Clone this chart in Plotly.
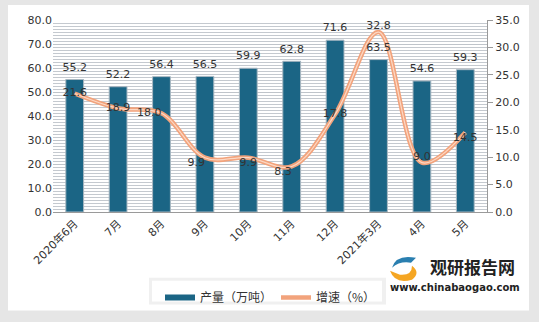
import plotly.graph_objects as go

categories = ["2020年6月", "7月", "8月", "9月", "10月", "11月", "12月", "2021年3月", "4月", "5月"]
output = [55.2, 52.2, 56.4, 56.5, 59.9, 62.8, 71.6, 63.5, 54.6, 59.3]
growth = [21.6, 18.9, 18.0, 9.9, 9.9, 8.3, 17.8, 32.8, 9.0, 14.5]
growth_pos = ["middle center", "middle center", "middle left", "bottom left", "bottom center",
              "bottom left", "middle center", "top center", "top center", "bottom center"]

BAR = "#1b6585"
LINE = "#f2a37c"
FONT = "DejaVu Sans, Noto Sans CJK SC, sans-serif"

L, R, T, B = 53, 52, 20, 109
W, H = 539, 322
PW, PH = W - L - R, H - T - B


def px_x(p):
    return (p - L) / PW


def px_y(p):
    return (H - B - p) / PH


fig = go.Figure()

fig.add_trace(go.Bar(
    x=categories, y=output, marker=dict(color=BAR, line=dict(color="#a9b8c2", width=1)),
    showlegend=False, width=0.41,
))
# legend proxy for bars
fig.add_trace(go.Scatter(
    x=[None], y=[None], mode="lines", line=dict(color=BAR, width=6), name="产量（万吨）",
))
fig.add_trace(go.Scatter(
    x=categories, y=growth, yaxis="y2", mode="lines", line=dict(color=LINE, width=4.5, shape="spline", smoothing=1),
    name="增速（%）", showlegend=True,
))
fig.add_trace(go.Scatter(
    x=categories, y=growth, yaxis="y2", mode="lines",
    line=dict(color="#fcd8c4", width=1.2, shape="spline", smoothing=1), showlegend=False,
))
fig.add_trace(go.Scatter(
    x=categories, y=growth, yaxis="y2", mode="text",
    text=[f"{v:.1f}" for v in growth], textposition=growth_pos, cliponaxis=False,
    textfont=dict(size=11, color="#333333", family=FONT), showlegend=False,
))
# bar value labels on a top overlay axis (same scale as left axis)
fig.add_trace(go.Scatter(
    x=categories, y=output, yaxis="y3", mode="markers+text",
    marker=dict(size=8, opacity=0),
    text=[f"{v:.1f}" for v in output], textposition="top center", cliponaxis=False,
    textfont=dict(size=11, color="#333333", family=FONT), showlegend=False, hoverinfo="skip",
))

shapes = [
    dict(type="rect", xref="paper", yref="paper", x0=px_x(8), x1=px_x(529), y0=px_y(312), y1=px_y(5),
         fillcolor="white", line=dict(width=0), layer="below"),
    # legend shadow + box
    dict(type="rect", xref="paper", yref="paper", x0=px_x(149), x1=px_x(386), y0=px_y(306), y1=px_y(279),
         fillcolor="#f0f0f0", line=dict(width=0), layer="below"),
    dict(type="rect", xref="paper", yref="paper", x0=px_x(152), x1=px_x(382), y0=px_y(303), y1=px_y(282),
         fillcolor="white", line=dict(width=0), layer="below"),
    # logo icon
    dict(type="path", xref="paper", yref="paper",
         path=f"M {px_x(392)},{px_y(269)} Q {px_x(396)},{px_y(255)} {px_x(416)},{px_y(259)} L {px_x(411)},{px_y(264)} Q {px_x(400)},{px_y(262)} {px_x(392)},{px_y(269)} Z",
         fillcolor="#2a7fb0", line=dict(width=0)),
    dict(type="path", xref="paper", yref="paper",
         path=f"M {px_x(390)},{px_y(272)} Q {px_x(395)},{px_y(286)} {px_x(412)},{px_y(281)} Q {px_x(421)},{px_y(274)} {px_x(412)},{px_y(267)} Q {px_x(412)},{px_y(277)} {px_x(400)},{px_y(276)} Z",
         fillcolor="#f5a623", line=dict(width=0)),
]

annotations = [
    dict(text="<b>观研报告网</b>", xref="paper", yref="paper", x=px_x(472), y=px_y(268),
         xanchor="center", yanchor="middle", showarrow=False,
         font=dict(size=17, color="#222222", family="Noto Sans CJK SC")),
    dict(text="<b>www.chinabaogao.com</b>", xref="paper", yref="paper", x=px_x(455), y=px_y(289),
         xanchor="center", yanchor="middle", showarrow=False,
         font=dict(size=10, color="#222222", family=FONT)),
]

fig.update_layout(
    width=W, height=H, margin=dict(l=L, r=R, t=T, b=B),
    paper_bgcolor="#e6e6e6", plot_bgcolor="#f3f5f7",
    font=dict(family=FONT, size=11, color="#333333"),
    bargap=0.59,
    xaxis=dict(type="category", range=[-0.5, len(categories) - 0.5], tickangle=-45, showline=True,
               linecolor="#9a9a9a", linewidth=1,
               ticks="", showgrid=False, tickfont=dict(size=11, family=FONT), automargin=False),
    yaxis=dict(range=[0, 80], dtick=10, tick0=0, tickformat=".1f",
               showgrid=True, gridcolor="#bfc4ca", gridwidth=1, zeroline=False, showline=False,
               ticks="", tickfont=dict(size=11), automargin=False,
               minor=dict(dtick=1.25, tick0=0, showgrid=True, gridcolor="#c4c9cf", gridwidth=1)),
    yaxis2=dict(range=[0, 35], dtick=5, tick0=0, tickformat=".1f",
                overlaying="y", side="right", showgrid=False, zeroline=False, showline=True,
                linecolor="#9a9a9a", ticks="outside", ticklen=5, tickcolor="#9a9a9a",
                tickfont=dict(size=11), automargin=False),
    yaxis3=dict(range=[0, 80], overlaying="y", visible=False, showgrid=False, zeroline=False),
    legend=dict(orientation="h", x=px_x(160), y=px_y(283), xanchor="left", yanchor="top",
                bgcolor="rgba(0,0,0,0)", font=dict(size=12, family="Noto Sans CJK SC, sans-serif"),
                entrywidth=71, tracegroupgap=0, itemwidth=30),
    shapes=shapes, annotations=annotations,
)

fig.write_html("out.html")
